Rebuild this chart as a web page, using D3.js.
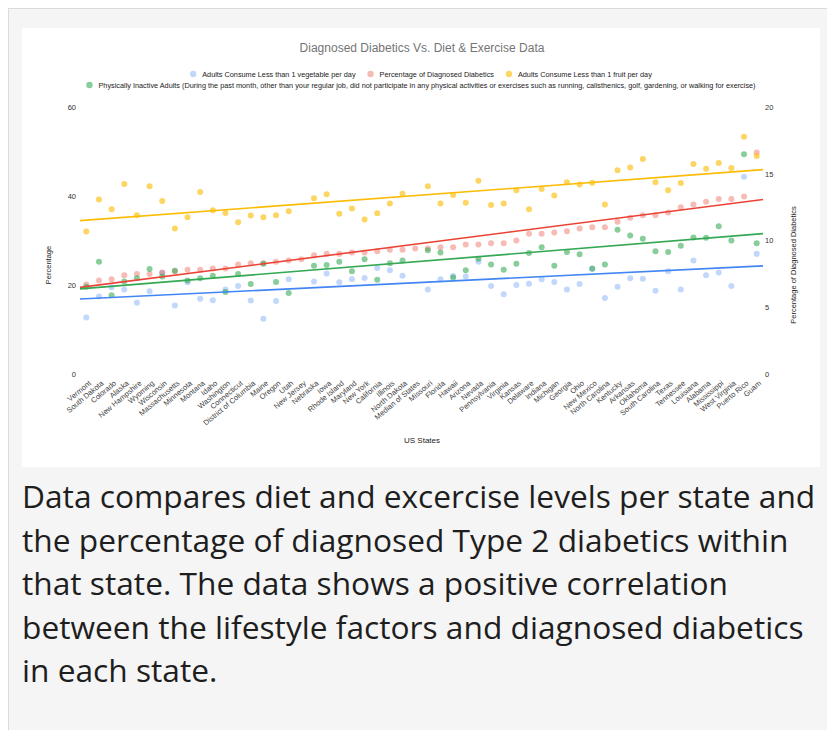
<!DOCTYPE html>
<html>
<head>
<meta charset="utf-8">
<script src="https://cdn.jsdelivr.net/npm/d3@7"></script>
<style>
    body { margin: 0; background: #fff; }
    #frame {
        position: absolute; left: 8px; top: 8px; width: 819px; height: 722px;
        background: #f5f5f5; border-left: 1px solid #dadada; border-top: 1px solid #dadada;
    }
    #chart { position: absolute; left: 0; top: 0; }
    #caption {
        position: absolute; left: 22px; top: 474px; width: 805px; margin: 0;
        font-family: 'Open Sans', sans-serif; font-size: 31.7px; line-height: 43.5px; color: #1e1e1e;
    }
</style>
</head>
<body>
<div id="frame"></div>
<div id="chart"></div>
<p id="caption">Data compares diet and excercise levels per state and the percentage of diagnosed Type 2 diabetics within that state. The data shows a positive correlation between the lifestyle factors and diagnosed diabetics in each state.</p>
<script>
const states = ['Vermont', 'South Dakota', 'Colorado', 'Alaska', 'New Hampshire', 'Wyoming', 'Wisconsin',
    'Massachusetts', 'Minnesota', 'Montana', 'Idaho', 'Washington', 'Connecticut', 'District of Columbia',
    'Maine', 'Oregon', 'Utah', 'New Jersey', 'Nebraska', 'Iowa', 'Rhode Island', 'Maryland', 'New York',
    'California', 'Illinois', 'North Dakota', 'Median of States', 'Missouri', 'Florida', 'Hawaii', 'Arizona',
    'Nevada', 'Pennsylvania', 'Virginia', 'Kansas', 'Delaware', 'Indiana', 'Michigan', 'Georgia', 'Ohio',
    'New Mexico', 'North Carolina', 'Kentucky', 'Arkansas', 'Oklahoma', 'South Carolina', 'Texas',
    'Tennessee', 'Louisiana', 'Alabama', 'Mississippi', 'West Virginia', 'Puerto Rico', 'Guam'];

// left axis (%)
const vegetable = [12.7, 17.4, 19.5, 19.0, 16.0, 18.6, 22.7, 15.4, 20.6, 16.9, 16.6, 19.0, 19.8, 16.5,
    12.4, 16.4, 21.3, null, 20.8, 22.6, 20.6, 21.3, 21.6, 23.8, 23.3, 22.1, null, 19.0, 21.3, 22.0, 21.9,
    25.2, 19.8, 17.9, 20.0, 20.3, 21.3, 20.7, 19.0, 20.2, 23.6, 17.1, 19.6, 21.5, 21.4, 18.7, 23.1, 19.0,
    25.5, 22.2, 22.8, 19.8, 44.3, 27.0];

// right axis (%)
const diabetics = [6.7, 7.0, 7.1, 7.4, 7.5, 7.5, 7.6, 7.7, 7.8, 7.8, 7.9, 7.9, 8.2, 8.3, 8.3, 8.4, 8.5,
    8.6, 8.9, 9.0, 9.0, 9.1, 9.1, 9.2, 9.3, 9.3, 9.4, 9.4, 9.5, 9.5, 9.7, 9.7, 9.8, 9.8, 10.0, 10.5, 10.5,
    10.6, 10.7, 10.9, 11.0, 11.0, 11.4, 11.7, 11.9, 11.9, 12.1, 12.5, 12.7, 12.9, 13.1, 13.1, 13.3, 16.6];

const fruit = [32.0, 39.2, 37.0, 42.7, 35.7, 42.2, 38.9, 32.7, 35.2, 40.9, 36.8, 36.2, 34.1, 35.6, 35.2,
    35.7, 36.6, null, 39.5, 40.4, 36.0, 37.2, 34.7, 36.1, 38.3, 40.5, null, 42.2, 38.3, 40.2, 38.5, 43.4,
    38.0, 38.3, 41.3, 37.0, 41.6, 40.1, 43.1, 42.6, 43.0, 38.1, 45.8, 46.4, 48.3, 43.1, 41.3, 42.9, 47.2,
    46.1, 47.4, 46.3, 53.3, 49.0];

const inactive = [19.6, 25.2, 17.7, 20.8, 21.5, 23.6, 21.9, 23.2, 21.0, 21.5, 22.1, 18.4, 22.5, 20.2,
    24.8, 20.7, 18.2, null, 24.3, 24.5, 25.2, 23.1, 25.8, 21.2, 24.9, 25.5, null, 27.8, 27.3, 21.7, 23.3,
    25.9, 24.6, 23.4, 24.8, 27.2, 28.5, 24.3, 27.4, 26.9, 23.7, 24.6, 32.4, 31.1, 30.4, 27.6, 27.4, 28.8,
    30.7, 30.6, 33.2, 30.0, 49.4, 29.4];

const leftTicks = [0, 20, 40, 60];
const rightTicks = [0, 5, 10, 15, 20];

const series = [
    { name: 'Adults Consume Less than 1 vegetable per day', values: vegetable, axis: 'left', color: '#4285f4', op: 0.33 },
    { name: 'Percentage of Diagnosed Diabetics', values: diabetics, axis: 'right', color: '#ea4335', op: 0.36 },
    { name: 'Adults Consume Less than 1 fruit per day', values: fruit, axis: 'left', color: '#fbbc04', op: 0.62 },
    { name: 'Physically Inactive Adults (During the past month, other than your regular job, did not participate in any physical activities or exercises such as running, calisthenics, golf, gardening, or walking for exercise)', values: inactive, axis: 'left', color: '#34a853', op: 0.58 },
];

const font = "Arial, 'Liberation Sans', sans-serif";

const svg = d3.select('#chart')
    .append('svg')
    .attr('width', 827)
    .attr('height', 470)
    .style('font-family', font);

// white chart card
svg.append('rect')
    .attr('x', 22).attr('y', 28)
    .attr('width', 798).attr('height', 439)
    .attr('fill', '#fff');

const plot = { left: 80, right: 763, top: 107, bottom: 374 };

const x = d3.scalePoint()
    .domain(states)
    .range([plot.left, plot.right])
    .padding(0.5);

const yLeft = d3.scaleLinear().domain([0, 60]).range([plot.bottom, plot.top]);
const yRight = d3.scaleLinear().domain([0, 20]).range([plot.bottom, plot.top]);

// title
svg.append('text')
    .attr('x', 422).attr('y', 52)
    .attr('text-anchor', 'middle')
    .style('font-size', '12px')
    .style('fill', '#757575')
    .text('Diagnosed Diabetics Vs. Diet & Exercise Data');

// legend, two rows
function legendRow(items, y) {
    const g = svg.append('g');
    let cx = 0;
    items.forEach((s) => {
        g.append('circle')
            .attr('cx', cx + 3).attr('cy', y)
            .attr('r', 3.2)
            .attr('fill', s.color).attr('fill-opacity', s.op);
        const t = g.append('text')
            .attr('x', cx + 12).attr('y', y + 2.6)
            .style('font-size', '7.3px')
            .style('fill', '#222')
            .text(s.name);
        cx += 12 + t.node().getComputedTextLength() + 12;
    });
    const w = cx - 12;
    g.attr('transform', `translate(${421 - w / 2}, 0)`);
}
legendRow(series.slice(0, 3), 74);
legendRow(series.slice(3), 85);

// axes
const axLeft = svg.append('g')
    .attr('transform', `translate(${plot.left}, 0)`)
    .call(d3.axisLeft(yLeft).tickValues(leftTicks).tickSize(0).tickPadding(4));
const axRight = svg.append('g')
    .attr('transform', `translate(${plot.right}, 0)`)
    .call(d3.axisRight(yRight).tickValues(rightTicks).tickSize(0).tickPadding(2));
const axBottom = svg.append('g')
    .attr('transform', `translate(0, ${plot.bottom})`)
    .call(d3.axisBottom(x).tickSize(0));

[axLeft, axRight, axBottom].forEach((ax) => {
    ax.select('.domain').remove();
    ax.selectAll('text')
        .style('font-family', font)
        .style('font-size', '7.5px')
        .style('fill', '#333');
});

axBottom.selectAll('text')
    .attr('text-anchor', 'end')
    .attr('x', 0).attr('y', 0).attr('dy', '0.35em')
    .attr('transform', 'translate(3, 8) rotate(-40)')
    .style('fill', '#444');

// axis titles
svg.append('text')
    .attr('transform', 'translate(51, 265) rotate(-90)')
    .attr('text-anchor', 'middle')
    .style('font-size', '7.5px').style('fill', '#222')
    .text('Percentage');

svg.append('text')
    .attr('transform', 'translate(796, 265) rotate(-90)')
    .attr('text-anchor', 'middle')
    .style('font-size', '7.5px').style('fill', '#222')
    .text('Percentage of Diagnosed Diabetics');

svg.append('text')
    .attr('x', 422).attr('y', 443)
    .attr('text-anchor', 'middle')
    .style('font-size', '8px').style('fill', '#222')
    .text('US States');

// linear trendline over the category index
function trend(values) {
    const pts = values.map((v, i) => [i, v]).filter((d) => d[1] != null);
    const mx = d3.mean(pts, (d) => d[0]);
    const my = d3.mean(pts, (d) => d[1]);
    const slope = d3.sum(pts, (d) => (d[0] - mx) * (d[1] - my)) / d3.sum(pts, (d) => (d[0] - mx) ** 2);
    return (i) => my + slope * (i - mx);
}

const half = x.step() / 2;
const n = states.length;

series.forEach((s) => {
    const y = s.axis === 'left' ? yLeft : yRight;
    svg.append('g')
        .selectAll('circle')
        .data(s.values.map((v, i) => ({ state: states[i], v })).filter((d) => d.v != null))
        .enter()
        .append('circle')
        .attr('cx', (d) => x(d.state))
        .attr('cy', (d) => y(d.v))
        .attr('r', 3)
        .attr('fill', s.color)
        .attr('fill-opacity', s.op);
});

series.forEach((s) => {
    const y = s.axis === 'left' ? yLeft : yRight;
    const f = trend(s.values);
    svg.append('line')
        .attr('x1', x(states[0]) - half).attr('y1', y(f(-0.5)))
        .attr('x2', x(states[n - 1]) + half).attr('y2', y(f(n - 0.5)))
        .attr('stroke', s.color)
        .attr('stroke-width', 1.6);
});
</script>
</body>
</html>
